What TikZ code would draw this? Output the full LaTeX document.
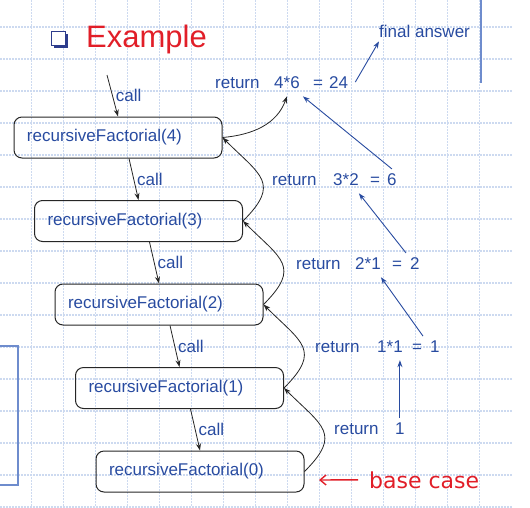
\documentclass[tikz,border=0pt]{standalone}
\usepackage{fontspec}
\setmainfont{Liberation Sans}
\newfontfamily\casefont{DejaVu Sans}
\usetikzlibrary{arrows.meta}

\definecolor{txtblue}{RGB}{40,75,160}
\definecolor{titlered}{RGB}{225,30,40}
\definecolor{gridblue}{RGB}{205,218,240}
\definecolor{fragblue}{RGB}{110,140,205}
\definecolor{bulletblue}{RGB}{45,60,140}

\begin{document}
\begin{tikzpicture}[
			x=1pt,y=1pt,
			rfbox/.style={
				rectangle,
				draw=black!85,
				line width=1pt,
				rounded corners=8pt,
				minimum width=208pt,
				minimum height=41pt,
				text width=182pt,
				inner xsep=13pt,
				align=left,
				text=txtblue,
				font=\fontsize{17}{20}\selectfont,
			},
			rettxt/.style={
				anchor=base west,
				inner xsep=0pt,
				inner ysep=4pt,
				text=txtblue,
				font=\fontsize{17}{20}\selectfont,
			},
			optxt/.style={
				rettxt,
				inner ysep=8pt,
			},
			calllbl/.style={
				right,
				inner sep=3pt,
				text=txtblue,
				font=\fontsize{17}{20}\selectfont,
			},
			callarrow/.style={
				>={Stealth[length=7pt,width=5pt]},
				draw=black!85,
				line width=0.8pt,
				->,
			},
			retcurve/.style={
				callarrow,
				out=45,in=-45,looseness=1.6,
			},
			bluearrow/.style={
				>={Stealth[length=7pt,width=5pt]},
				draw=txtblue,
				line width=0.9pt,
				->,
			},
			gridline/.style={
				gridblue,
				line width=1.2pt,
				dash pattern=on 2pt off 1pt,
			}]
		\useasboundingbox (0,0) rectangle (530,-507);

		% background grid
		\foreach \gx in {1,...,15}
			\draw[gridline] (32*\gx-0.5,0) -- (32*\gx-0.5,-507);
		\foreach \gy in {0,...,15}
			\draw[gridline] (0,-27-32*\gy) -- (512,-27-32*\gy);

		% pieces of the slide frame
		\draw[fragblue,line width=1.5pt] (-2,-346) rectangle (18,-485);
		\draw[fragblue,line width=2pt] (481,0) -- (481,-83);

		% title
		\fill[bulletblue] (53.5,-33.5) rectangle (68,-47.5);
		\filldraw[fill=white,draw=bulletblue,line width=0.8pt] (51,-31) rectangle (65,-45);
		\node[anchor=base west,inner sep=0pt,text=titlered,
			font=\fontsize{31}{36}\selectfont] (title) at (86,-47) {Example};

		% calls
		\node[rfbox] (rf4) at (118,-137.5)  {recursiveFactorial(4)};
		\node[rfbox] (rf3) at (138.5,-221)  {recursiveFactorial(3)};
		\node[rfbox] (rf2) at (159,-304.5)  {recursiveFactorial(2)};
		\node[rfbox] (rf1) at (179.5,-388)  {recursiveFactorial(1)};
		\node[rfbox] (rf0) at (200,-471.5)  {recursiveFactorial(0)};
		\coordinate (start) at (107,-75);
		\path (start) edge[callarrow] node[calllbl] {call} (rf4.north);
		\path ([xshift=11pt]rf4.south) edge[callarrow] node[calllbl] {call} (rf3.north);
		\path ([xshift=11pt]rf3.south) edge[callarrow] node[calllbl] {call} (rf2.north);
		\path ([xshift=11pt]rf2.south) edge[callarrow] node[calllbl] {call} (rf1.north);
		\path ([xshift=11pt]rf1.south) edge[callarrow] node[calllbl] {call} (rf0.north);

		% returns
		\node[rettxt] (ret4) at (215,-88) {return};
		\node[optxt]  (op4)  at (274,-88) {4*6};
		\node[rettxt] (eq4)  at (313,-88) {=};
		\node[rettxt] (v4)   at (329,-88) {24};
		\node[rettxt] (ret3) at (272,-185) {return};
		\node[optxt]  (op3)  at (333,-185) {3*2};
		\node[rettxt] (eq3)  at (370,-185) {=};
		\node[rettxt] (v3)   at (387,-185) {6};
		\node[rettxt] (ret2) at (296,-269) {return};
		\node[optxt]  (op2)  at (355,-269) {2*1};
		\node[rettxt] (eq2)  at (392,-269) {=};
		\node[rettxt] (v2)   at (410,-269) {2};
		\node[rettxt] (ret1) at (315,-352) {return};
		\node[optxt]  (op1)  at (377,-352) {1*1};
		\node[rettxt] (eq1)  at (412,-352) {=};
		\node[rettxt] (v1)   at (430,-352) {1};
		\node[rettxt] (ret0) at (334,-434) {return};
		\node[rettxt] (v0)   at (395,-434) {1};
		\node[rettxt] (final) at (379,-37) {final answer};

		\path (rf0.east) edge[retcurve] (rf1.east);
		\path (rf1.east) edge[retcurve] (rf2.east);
		\path (rf2.east) edge[retcurve] (rf3.east);
		\path (rf3.east) edge[retcurve] (rf4.east);
		\path (rf4.east) edge[callarrow,out=5,in=-110] (op4.south);

		\path (v0.north) edge[bluearrow] (v0.north |- op1.south);
		\path ([xshift=-7pt]v1.north west) edge[bluearrow] (op2.south east);
		\path ([xshift=-4pt]v2.north west) edge[bluearrow] (op3.south east);
		\path (v3.north) edge[bluearrow] ([xshift=3pt]op4.south east);
		\path ([xshift=7pt]v4.east) edge[bluearrow] (final.south west);

		% base case
		\node[anchor=base west,inner xsep=11pt,inner ysep=2pt,text=titlered,
			font=\casefont\fontsize{22}{26}\selectfont] (base) at (358,-488) {base case};
		\coordinate (basetip) at (319,-480);
		\path (base.west) edge[draw=titlered,line width=1.4pt,
			-{Straight Barb[length=6pt,width=10pt]}] (basetip);
	\end{tikzpicture}
\end{document}
